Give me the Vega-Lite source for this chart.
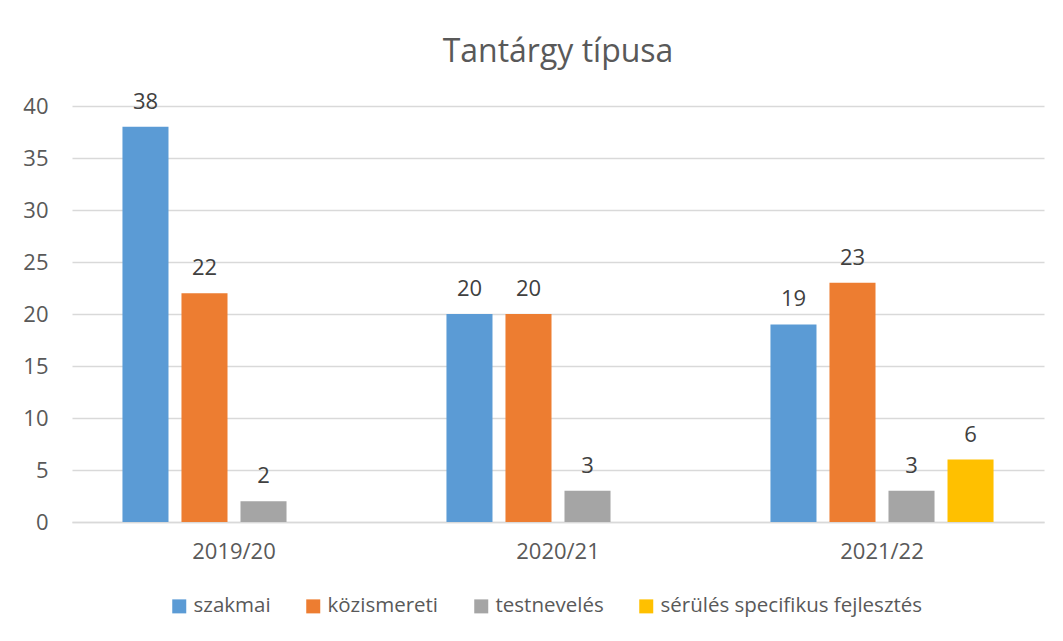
{
  "$schema": "https://vega.github.io/schema/vega-lite/v6.json",
  "width": 972,
  "height": 416,
  "autosize": {"type": "none"},
  "padding": {"left": 72, "top": 106, "right": 19, "bottom": 119},
  "background": "white",
  "title": {
    "text": "Tantárgy típusa",
    "font": "Open Sans",
    "fontSize": 32,
    "fontWeight": "normal",
    "color": "#595959",
    "anchor": "middle",
    "offset": 22
  },
  "data": {
    "values": [
      {"ev": "2019/20", "tipus": "szakmai", "db": 38},
      {"ev": "2019/20", "tipus": "közismereti", "db": 22},
      {"ev": "2019/20", "tipus": "testnevelés", "db": 2},
      {"ev": "2020/21", "tipus": "szakmai", "db": 20},
      {"ev": "2020/21", "tipus": "közismereti", "db": 20},
      {"ev": "2020/21", "tipus": "testnevelés", "db": 3},
      {"ev": "2021/22", "tipus": "szakmai", "db": 19},
      {"ev": "2021/22", "tipus": "közismereti", "db": 23},
      {"ev": "2021/22", "tipus": "testnevelés", "db": 3},
      {"ev": "2021/22", "tipus": "sérülés specifikus fejlesztés", "db": 6}
    ]
  },
  "encoding": {
    "x": {
      "field": "ev",
      "type": "nominal",
      "sort": null,
      "scale": {"paddingInner": 0, "paddingOuter": 0},
      "axis": {
        "title": null,
        "labelAngle": 0,
        "labelFont": "Open Sans",
        "labelFontSize": 22,
        "labelColor": "#595959",
        "labelPadding": 19,
        "ticks": false,
        "domainColor": "#d9d9d9",
        "domainWidth": 1.5
      }
    },
    "xOffset": {
      "field": "tipus",
      "type": "nominal",
      "scale": {
        "domain": ["szakmai", "közismereti", "testnevelés", "sérülés specifikus fejlesztés"],
        "paddingInner": 0.22,
        "paddingOuter": 0.855
      }
    },
    "y": {
      "field": "db",
      "type": "quantitative",
      "scale": {"domain": [0, 40]},
      "axis": {
        "title": null,
        "values": [0, 5, 10, 15, 20, 25, 30, 35, 40],
        "labelFont": "Open Sans",
        "labelFontSize": 22,
        "labelColor": "#595959",
        "labelPadding": 24,
        "ticks": false,
        "domain": false,
        "gridColor": "#d9d9d9",
        "gridWidth": 1.5
      }
    }
  },
  "layer": [
    {
      "mark": {"type": "bar"},
      "encoding": {
        "color": {
          "field": "tipus",
          "type": "nominal",
          "scale": {
            "domain": ["szakmai", "közismereti", "testnevelés", "sérülés specifikus fejlesztés"],
            "range": ["#5B9BD5", "#ED7D31", "#A5A5A5", "#FFC000"]
          },
          "legend": {
            "title": null,
            "orient": "none",
            "legendX": 97,
            "legendY": 490,
            "direction": "horizontal",
            "symbolType": "square",
            "symbolSize": 196,
            "symbolStrokeWidth": 0,
            "labelFont": "Open Sans",
            "labelFontSize": 20.5,
            "labelColor": "#595959",
            "labelLimit": 400,
            "labelOffset": 4,
            "columnPadding": 32
          }
        }
      }
    },
    {
      "mark": {
        "type": "text",
        "font": "Open Sans",
        "fontSize": 22,
        "color": "#404040",
        "baseline": "alphabetic",
        "dy": -18
      },
      "encoding": {
        "text": {"field": "db", "type": "quantitative"}
      }
    }
  ],
  "config": {
    "view": {"stroke": null}
  }
}
